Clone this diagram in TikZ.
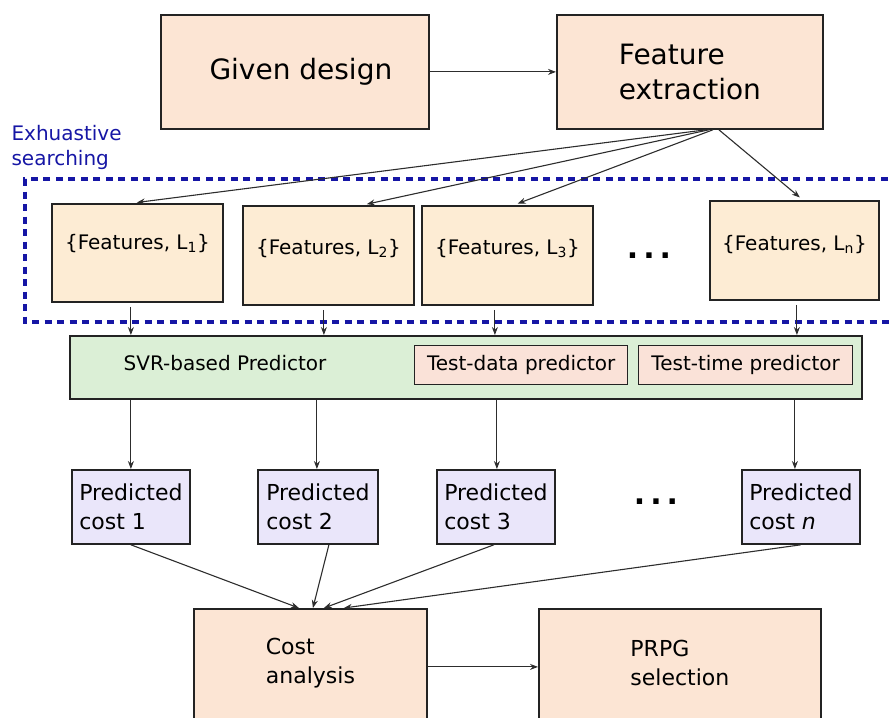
\documentclass[tikz,border=0pt]{standalone}
\usepackage{fontspec}
\setmainfont{DejaVu Sans}
\usetikzlibrary{arrows.meta,calc}

\definecolor{peach}{RGB}{252,229,212}
\definecolor{cream}{RGB}{253,236,212}
\definecolor{mint}{RGB}{219,239,214}
\definecolor{rose}{RGB}{250,226,216}
\definecolor{lavender}{RGB}{234,230,250}
\definecolor{navy}{RGB}{22,22,165}
\definecolor{edge}{RGB}{35,35,35}
\definecolor{wire}{RGB}{45,45,45}

\begin{document}
\begin{tikzpicture}[x=1pt,y=-1pt,
  box/.style={draw=edge, line width=1.8pt, inner sep=0pt, anchor=north west},
  arr/.style={draw=wire, line width=1.1pt, -{Stealth[length=8pt,width=6pt]}},
  bigtxt/.style={font=\fontsize{28}{35}\selectfont, align=left},
  midtxt/.style={font=\fontsize{22}{29}\selectfont, align=left},
  smalltxt/.style={font=\fontsize{20}{24}\selectfont},
  dots/.style={font=\bfseries\fontsize{30}{30}\selectfont},
  group/.style={draw=navy, line width=3.5pt, dash pattern=on 7pt off 5.5pt}]

\useasboundingbox (0,0) rectangle (890,717);

% top row
\node[box, fill=peach, minimum width=268pt, minimum height=114pt] (gd) at (160,14) {};
\node[bigtxt] (gdt) at ([xshift=6pt]gd.center) {Given design};
\node[box, fill=peach, minimum width=266pt, minimum height=114pt] (fe) at (556,14) {};
\node[bigtxt] (fet) at (fe.center) {Feature\\extraction};
\draw[arr] (gd.east) -- (fe.west);

% exhaustive search region
\node[anchor=west, align=left, text=navy, font=\fontsize{20}{25}\selectfont] (ex) at (8,147)
  {Exhuastive\\searching};
\draw[group] (900,179) -- (25,179) -- (25,322) -- (900,322);

% candidate feature sets
\node[box, fill=cream, minimum width=171pt, minimum height=98pt] (f1) at (51,203) {};
\node[box, fill=cream, minimum width=171pt, minimum height=99pt] (f2) at (242,205) {};
\node[box, fill=cream, minimum width=171pt, minimum height=99pt] (f3) at (421,205) {};
\node[box, fill=cream, minimum width=169pt, minimum height=99pt] (fn) at (709,200) {};
\node[smalltxt] (f1t) at ([yshift=9pt]f1.center) {\{Features, L\textsubscript{1}\}};
\node[smalltxt] (f2t) at ([yshift=7pt]f2.center) {\{Features, L\textsubscript{2}\}};
\node[smalltxt] (f3t) at ([yshift=7pt]f3.center) {\{Features, L\textsubscript{3}\}};
\node[smalltxt] (fnt) at ([yshift=6pt]fn.center) {\{Features, L\textsubscript{n}\}};
\node[dots] (fdots) at (649,256) {.\,.\,.};

\draw[arr, shorten >=4pt] ([xshift=16pt]fe.south) -- ([xshift=-4.5pt]f1.north);
\draw[arr, shorten >=4pt] ([xshift=19pt]fe.south) -- ([xshift=34.5pt]f2.north);
\draw[arr, shorten >=4pt] ([xshift=23pt]fe.south) -- ([xshift=6.5pt]f3.north);
\draw[arr, shorten >=4pt] ([xshift=29pt]fe.south) -- ([xshift=8.5pt]fn.north);

% predictor block
\node[box, fill=mint, minimum width=792pt, minimum height=63pt] (svr) at (69,335) {};
\node[smalltxt] (svrt) at (225,363) {SVR-based Predictor};
\node[box, fill=rose, line width=1.4pt, minimum width=213pt, minimum height=39pt] (tdp) at (414,345) {};
\node[smalltxt] (tdpt) at (tdp.center) {Test-data predictor};
\node[box, fill=rose, line width=1.4pt, minimum width=214pt, minimum height=39pt] (ttp) at (638,345) {};
\node[smalltxt] (ttpt) at (ttp.center) {Test-time predictor};

\draw[arr, shorten <=4pt] ([xshift=-6.5pt]f1.south) -- ([xshift=-6.5pt]f1.south |- svr.north);
\draw[arr, shorten <=4pt] ([xshift=-4.5pt]f2.south) -- ([xshift=-4.5pt]f2.south |- svr.north);
\draw[arr, shorten <=4pt] ([xshift=-12.5pt]f3.south) -- ([xshift=-12.5pt]f3.south |- svr.north);
\draw[arr, shorten <=4pt] ([xshift=2.5pt]fn.south) -- ([xshift=2.5pt]fn.south |- svr.north);

% predicted costs
\node[box, fill=lavender, minimum width=118pt, minimum height=74pt] (pc1) at (71,469) {};
\node[box, fill=lavender, minimum width=120pt, minimum height=74pt] (pc2) at (257,469) {};
\node[box, fill=lavender, minimum width=118pt, minimum height=74pt] (pc3) at (436,469) {};
\node[box, fill=lavender, minimum width=118pt, minimum height=74pt] (pcn) at (741,469) {};
\node[midtxt] (pc1t) at (pc1.center) {Predicted\\cost 1};
\node[midtxt] (pc2t) at (pc2.center) {Predicted\\cost 2};
\node[midtxt] (pc3t) at (pc3.center) {Predicted\\cost 3};
\node[midtxt] (pcnt) at (pcn.center) {Predicted\\cost \textit{n}};
\node[dots] (pdots) at (656,502) {.\,.\,.};

\draw[arr] (pc1.north |- svr.south) -- (pc1.north);
\draw[arr] ([xshift=-1pt]pc2.north |- svr.south) -- ([xshift=-1pt]pc2.north);
\draw[arr] ([xshift=1pt]pc3.north |- svr.south) -- ([xshift=1pt]pc3.north);
\draw[arr] ([xshift=-6pt]pcn.north |- svr.south) -- ([xshift=-6pt]pcn.north);

% analysis and selection
\node[box, fill=peach, minimum width=233pt, minimum height=112pt] (ca) at (193,608) {};
\node[midtxt] (cat) at ([yshift=2pt]ca.center) {Cost\\analysis};
\node[box, fill=peach, minimum width=282pt, minimum height=112pt] (ps) at (538,608) {};
\node[midtxt] (pst) at ([yshift=2pt]ps.center) {PRPG\\selection};

\draw[arr] (pc1.south) -- ([xshift=-11.5pt]ca.north);
\draw[arr] ([xshift=11pt]pc2.south) -- ([xshift=2.5pt]ca.north);
\draw[arr] ([xshift=-2pt]pc3.south) -- ([xshift=13.5pt]ca.north);
\draw[arr] (pcn.south) -- ([xshift=33.5pt]ca.north);
\draw[arr] ([yshift=-2pt]ca.east) -- ([yshift=-2pt]ps.west);

\end{tikzpicture}
\end{document}
